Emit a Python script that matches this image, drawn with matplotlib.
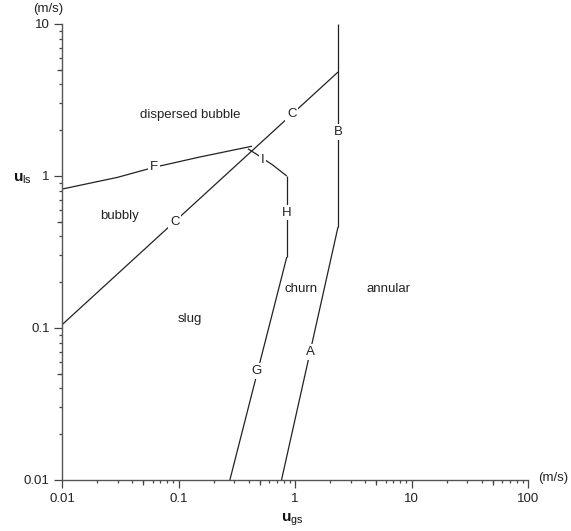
import matplotlib
matplotlib.use("Agg")
import matplotlib.pyplot as plt
from matplotlib.ticker import LogLocator, NullFormatter, FixedLocator

plt.rcParams['font.family'] = ['Liberation Sans', 'DejaVu Sans']
plt.rcParams['mathtext.fontset'] = 'custom'
plt.rcParams['mathtext.rm'] = 'Liberation Sans'
plt.rcParams['mathtext.bf'] = 'Liberation Sans:bold'

# Transition boundaries (u_gs, u_ls) in m/s
F_x = [0.01, 0.03, 0.0615, 0.15, 0.427]
F_y = [0.82, 0.98, 1.14, 1.33, 1.57]
C_x = [0.01, 2.34]
C_y = [0.105, 4.83]
I_x = [0.394, 0.461, 0.645, 0.85]
I_y = [1.51, 1.40, 1.18, 1.0]
H_x = [0.85, 0.85]
H_y = [1.0, 0.293]
G_x = [0.85, 0.276]
G_y = [0.293, 0.01]
B_x = [2.34, 2.34]
B_y = [10.0, 0.462]
A_x = [2.34, 0.766]
A_y = [0.462, 0.01]

curve_labels = ["F", "C", "C", "I", "H", "G", "B", "A"]
label_x = [0.0615, 0.093, 0.94, 0.53, 0.85, 0.466, 2.34, 1.35]
label_y = [1.14, 0.50, 2.55, 1.27, 0.575, 0.052, 1.95, 0.0695]

regions = ["dispersed bubble", "bubbly", "slug", "churn", "annular"]
region_x = [0.125, 0.0314, 0.125, 1.12, 6.37]
region_y = [2.52, 0.545, 0.1146, 0.181, 0.181]

xticks = [0.01, 0.1, 1, 10, 100]
xtick_labels = ["0.01", "0.1", "1", "10", "100"]
yticks = [0.01, 0.1, 1, 10]
ytick_labels = ["0.01", "0.1", "1", "10"]
x_mid_ticks = [0.05, 0.5, 5, 50]
y_mid_ticks = [0.05, 0.5, 5]

fig = plt.figure(figsize=(5.71, 5.31), dpi=100)
ax = fig.add_axes([62/571, 1-480/531, (528-62)/571, (480-24)/531])
ax.set_xscale('log')
ax.set_yscale('log')
ax.set_xlim(0.01, 100)
ax.set_ylim(0.01, 10)

lc = '#222222'
for xs, ys in [(F_x, F_y), (C_x, C_y), (I_x, I_y), (H_x, H_y), (G_x, G_y), (B_x, B_y), (A_x, A_y)]:
    ax.plot(xs, ys, color=lc, lw=0.9, solid_capstyle='butt')

fs = 9.5
for t, x, y in zip(curve_labels, label_x, label_y):
    ax.text(x, y, t, ha='center', va='center', fontsize=fs, color='#222222',
            bbox=dict(facecolor='white', edgecolor='none', pad=1.2), zorder=5)

for t, x, y in zip(regions, region_x, region_y):
    ax.text(x, y, t, ha='center', va='center', fontsize=fs, color='#222222')

for s in ['top', 'right']:
    ax.spines[s].set_visible(False)
for s in ['left', 'bottom']:
    ax.spines[s].set_color('#555555')
    ax.spines[s].set_linewidth(1.0)

ax.set_xticks(xticks)
ax.set_xticklabels(xtick_labels)
ax.set_yticks(yticks)
ax.set_yticklabels(ytick_labels)
ax.xaxis.set_minor_locator(LogLocator(base=10, subs=[2, 3, 4, 5, 6, 7, 8, 9], numticks=20))
ax.yaxis.set_minor_locator(LogLocator(base=10, subs=[2, 3, 4, 5, 6, 7, 8, 9], numticks=20))
ax.xaxis.set_minor_formatter(NullFormatter())
ax.yaxis.set_minor_formatter(NullFormatter())
ax.tick_params(which='major', length=6, width=0.9, color='#444444', labelsize=fs, labelcolor='#222222', pad=3)
ax.tick_params(which='minor', length=2, width=0.9, color='#444444')

# medium-length ticks at the 5s
sx = ax.secondary_xaxis('bottom')
sx.set_xticks(x_mid_ticks)
sx.xaxis.set_minor_locator(FixedLocator([]))
sx.set_xticklabels([])
sx.tick_params(length=3.5, width=0.9, color='#444444')
sx.spines['bottom'].set_visible(False)
sy = ax.secondary_yaxis('left')
sy.set_yticks(y_mid_ticks)
sy.yaxis.set_minor_locator(FixedLocator([]))
sy.set_yticklabels([])
sy.tick_params(length=3.5, width=0.9, color='#444444')
sy.spines['left'].set_visible(False)

fig.text(48/571, 1-9/531, "(m/s)", ha='center', va='center', fontsize=fs, color='#222222')
fig.text(553/571, 1-478/531, "(m/s)", ha='center', va='center', fontsize=fs, color='#222222')
fig.text(22/571, 1-179/531, r'$\mathbf{u}_{\mathrm{ls}}$', ha='center', va='center', fontsize=11, color='#111111')
fig.text(292/571, 1-520/531, r'$\mathbf{u}_{\mathrm{gs}}$', ha='center', va='center', fontsize=11, color='#111111')

fig.savefig("out.png", dpi=100, facecolor='white')
